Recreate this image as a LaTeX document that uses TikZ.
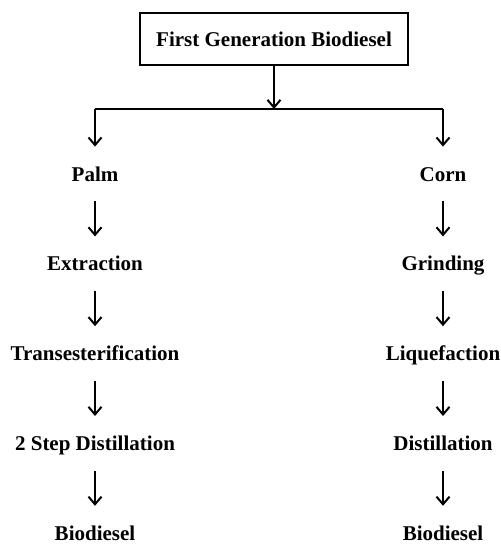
\documentclass[tikz,border=0pt]{standalone}
\usepackage{fontspec}
\setmainfont{Liberation Serif}
\usetikzlibrary{positioning, arrows.meta}
\tikzset{
  head/.style={draw, line width=1pt, minimum width=134pt, minimum height=26pt,
               inner sep=0pt, font=\fontsize{10.5}{12}\selectfont\bfseries},
  stage/.style={inner sep=0pt, text height=7pt, text depth=2pt,
                font=\fontsize{10.5}{12}\selectfont\bfseries},
  flow/.style={-{Straight Barb[length=3.8pt, width=6.5pt]}, line width=1pt,
               shorten <=8pt, shorten >=10pt},
  branch/.style={line width=1pt}
}

\begin{document}
\begin{tikzpicture}[x=0.5pt, y=-0.5pt, node distance=35.5pt]
  \useasboundingbox (0,0) rectangle (501,546);
  \node[head] (top) at (274,39) {First Generation Biodiesel};
  \coordinate (jm) at (274,109);
  \coordinate (jl) at (95,109);
  \coordinate (jr) at (443,109);
  % left branch
  \node[stage] (palm) at (95,176) {Palm};
  \node[stage, below=of palm] (extr) {Extraction};
  \node[stage, below=of extr] (trans) {Transesterification};
  \node[stage, below=of trans] (twostep) {2 Step Distillation};
  \node[stage, below=of twostep] (biol) {Biodiesel};
  % right branch
  \node[stage] (corn) at (443,176) {Corn};
  \node[stage, below=of corn] (grind) {Grinding};
  \node[stage, below=of grind] (liq) {Liquefaction};
  \node[stage, below=of liq] (dist) {Distillation};
  \node[stage, below=of dist] (bior) {Biodiesel};
  \draw[flow, shorten <=0pt, shorten >=0pt] (top) -- (jm);
  \draw[branch] (jl) -- (jr);
  \draw[flow, shorten <=0pt] (jl) -- (palm);
  \draw[flow, shorten <=0pt] (jr) -- (corn);
  \draw[flow] (palm) -- (extr);
  \draw[flow] (extr) -- (trans);
  \draw[flow] (trans) -- (twostep);
  \draw[flow] (twostep) -- (biol);
  \draw[flow] (corn) -- (grind);
  \draw[flow] (grind) -- (liq);
  \draw[flow] (liq) -- (dist);
  \draw[flow] (dist) -- (bior);
\end{tikzpicture}
\end{document}
